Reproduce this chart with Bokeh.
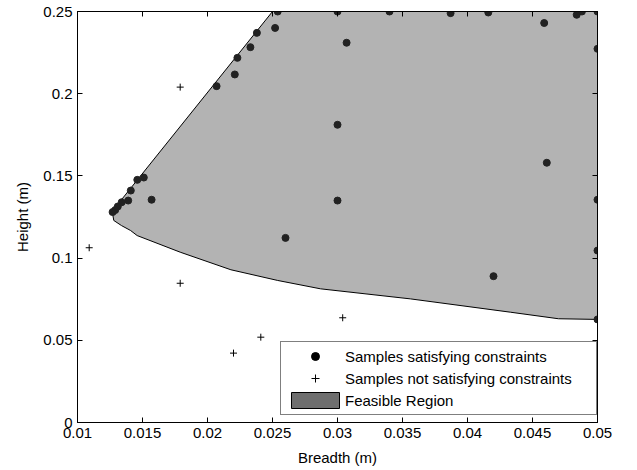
from bokeh.plotting import figure
from bokeh.models import FixedTicker, LinearAxis, Legend, LegendItem, Range1d
from bokeh.embed import file_html
from bokeh.resources import INLINE

# ---- data ----
region_x = [0.01267, 0.01279, 0.01338, 0.01408, 0.01459, 0.0179, 0.0218, 0.0254,
            0.0287, 0.0356, 0.0433, 0.0470, 0.0500, 0.0500, 0.0250]
region_y = [0.1285, 0.1229, 0.1198, 0.1168, 0.1137, 0.1036, 0.0929, 0.0864,
            0.0813, 0.0752, 0.0671, 0.0631, 0.0627, 0.2500, 0.2500]

ok_x = [0.0254, 0.0300, 0.0340, 0.0387, 0.0416, 0.0488, 0.0484, 0.0500, 0.0459,
        0.0252, 0.0238, 0.0233, 0.0223, 0.0221, 0.0207, 0.0307, 0.0500, 0.0300,
        0.0461, 0.0300, 0.0500, 0.0151, 0.0146, 0.0141, 0.0139, 0.0157, 0.0134,
        0.0131, 0.0129, 0.0127, 0.0260, 0.0420, 0.0500, 0.0500]
ok_y = [0.2500, 0.2500, 0.2500, 0.2490, 0.2494, 0.2500, 0.2480, 0.2500, 0.2430,
        0.2400, 0.2370, 0.2283, 0.2218, 0.2117, 0.2046, 0.2310, 0.2273, 0.1811,
        0.1580, 0.1350, 0.1355, 0.1490, 0.1476, 0.1411, 0.1350, 0.1355, 0.1340,
        0.1314, 0.1292, 0.1280, 0.1123, 0.0890, 0.1046, 0.0627]

bad_x = [0.0179, 0.0109, 0.0179, 0.0220, 0.0241, 0.0304]
bad_y = [0.2040, 0.1063, 0.0847, 0.0422, 0.0519, 0.0637]

x_ticks = [0.01, 0.015, 0.02, 0.025, 0.03, 0.035, 0.04, 0.045, 0.05]
x_tick_labels = ["0.01", "0.015", "0.02", "0.025", "0.03", "0.035", "0.04", "0.045", "0.05"]
y_ticks = [0, 0.05, 0.1, 0.15, 0.2, 0.25]
y_tick_labels = ["0", "0.05", "0.1", "0.15", "0.2", "0.25"]

legend_labels = ["Samples satisfying constraints", "Samples not satisfying constraints", "Feasible Region"]
nan = float("nan")

FONT = "Liberation Sans"

p = figure(width=630, height=468, x_range=Range1d(0.01, 0.05), y_range=Range1d(0, 0.25),
           output_backend="svg", toolbar_location=None,
           min_border_left=77, min_border_right=33, min_border_top=11, min_border_bottom=0,
           background_fill_color="white", border_fill_color="white",
           outline_line_color="black", outline_line_width=1)
p.xgrid.visible = False
p.ygrid.visible = False

# feasible region
p.patch(x=region_x, y=region_y, fill_color="#b3b3b3", line_color="black", line_width=1)

# samples
p.scatter(x=ok_x, y=ok_y, marker="circle", size=7, fill_color="#222222", line_color="#222222")
p.scatter(x=bad_x, y=bad_y, marker="cross", size=7, line_color="black", line_width=1)

# axes
def style_axis(ax, ticks, labels, show_labels=True):
    ax.ticker = FixedTicker(ticks=ticks)
    ax.major_tick_in = 5
    ax.major_tick_out = 0
    ax.minor_tick_line_color = None
    ax.axis_line_color = "black"
    ax.major_tick_line_color = "black"
    ax.major_label_text_font = FONT
    ax.axis_label_text_font = FONT
    ax.axis_label_text_font_style = "normal"
    ax.axis_label_text_font_size = "15px"
    ax.axis_label_text_color = "black"
    if show_labels:
        ax.major_label_overrides = {t: l for t, l in zip(ticks, labels)}
        ax.major_label_text_font_size = "15px"
        ax.major_label_text_color = "black"
        ax.major_label_standoff = 5
    else:
        ax.major_label_overrides = {t: "" for t in ticks}
        ax.major_label_text_font_size = "6px"
        ax.major_label_text_color = None
        ax.major_label_standoff = 0

style_axis(p.xaxis[0], x_ticks, x_tick_labels)
style_axis(p.yaxis[0], y_ticks, y_tick_labels)
p.xaxis[0].axis_label = "Breadth (m)"
p.xaxis[0].axis_label_standoff = 8
p.yaxis[0].axis_label = "Height (m)"
p.yaxis[0].axis_label_standoff = 9

top_ax = LinearAxis()
style_axis(top_ax, x_ticks, x_tick_labels, show_labels=False)
p.add_layout(top_ax, "above")
right_ax = LinearAxis()
style_axis(right_ax, y_ticks, y_tick_labels, show_labels=False)
p.add_layout(right_ax, "right")

# legend proxies (single NaN point: nothing drawn in the plot area)
leg_dot = p.scatter(x=[nan], y=[nan], marker="circle", size=10, fill_color="black", line_color="black")
leg_cross = p.scatter(x=[nan], y=[nan], marker="cross", size=11, line_color="black", line_width=1)
leg_patch = p.patch(x=[nan], y=[nan], fill_color="#6e6e6e", line_color="black", line_width=1)

legend = Legend(items=[LegendItem(label=legend_labels[0], renderers=[leg_dot]),
                       LegendItem(label=legend_labels[1], renderers=[leg_cross]),
                       LegendItem(label=legend_labels[2], renderers=[leg_patch])],
                location=(203, 7), margin=0, padding=4, spacing=2,
                glyph_width=60, glyph_height=20, label_height=20, label_width=247,
                label_standoff=0,
                label_text_font=FONT, label_text_font_size="15px", label_text_color="black",
                border_line_color="black", border_line_width=1,
                background_fill_color="white", background_fill_alpha=1.0)
p.add_layout(legend)

open("out.html", "w").write(file_html(p, INLINE))
